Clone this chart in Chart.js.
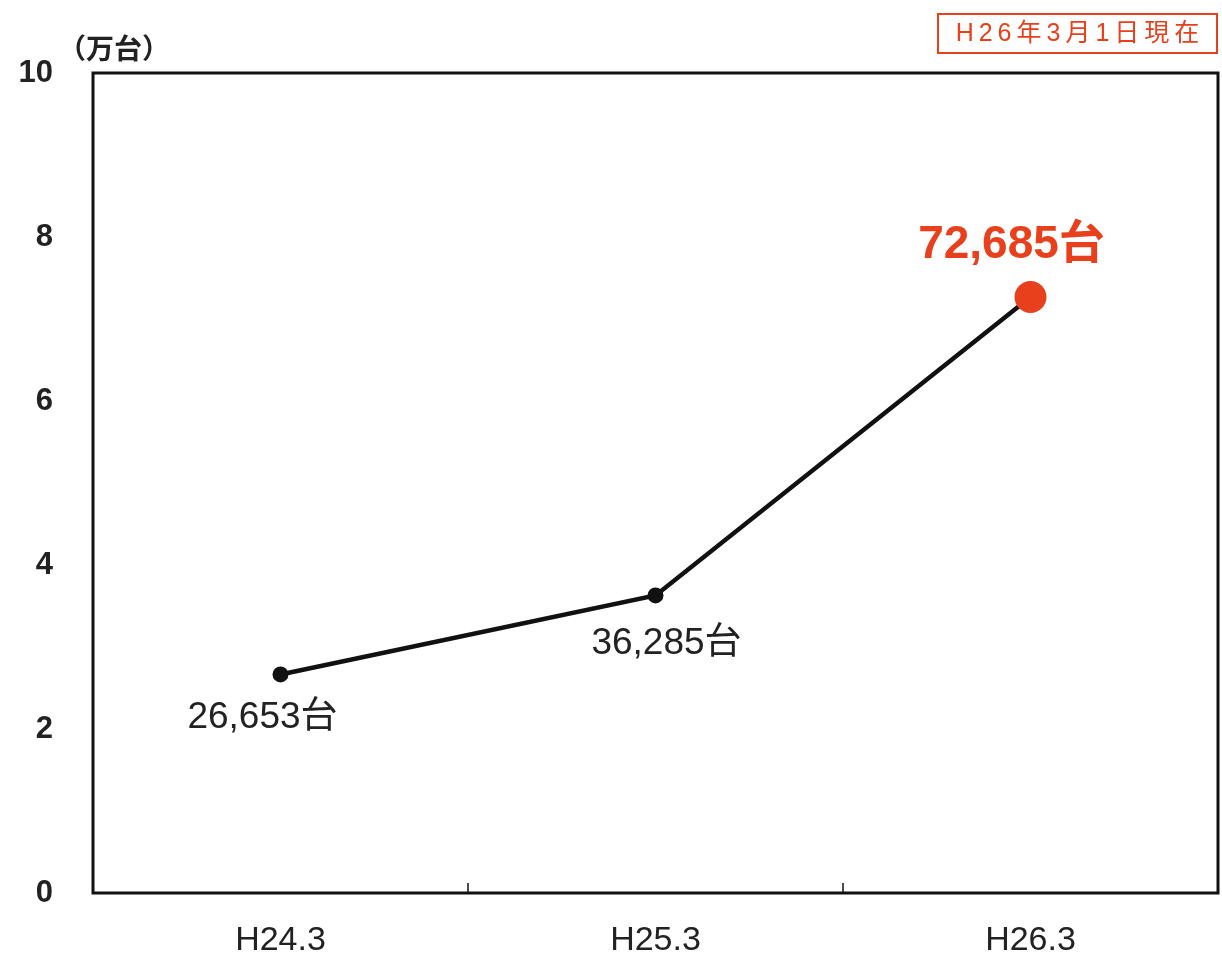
<!DOCTYPE html>
<html>
<head>
<meta charset="utf-8">
<script src="https://cdn.jsdelivr.net/npm/chart.js@4"></script>
<style>
html,body{margin:0;padding:0;background:#fff;}
#wrap{position:relative;width:1222px;height:958px;}
</style>
</head>
<body>
<div id="wrap"><canvas id="c" width="1222" height="958"></canvas></div>
<script>
const categories = ["H24.3", "H25.3", "H26.3"];
const units = [2.6653, 3.6285, 7.2685];
const valueLabels = ["26,653台", "36,285台", "72,685台"];
const yTicks = [0, 2, 4, 6, 8, 10];
const unitLabel = "（万台）";
const dateNote = "H26年3月1日現在";

const RED = "#e8401c";
const FONT = "'Liberation Sans', Arial, 'Noto Sans CJK JP', sans-serif";

const labelStyle = [
  {dx: -18, dy: 43, size: 37, color: "#222", weight: "normal"},
  {dx: 11, dy: 48, size: 37, color: "#222", weight: "normal"},
  {dx: -19, dy: -52, size: 46, color: RED, weight: "bold"}
];

const deco = {
  id: "deco",
  afterDraw(chart) {
    const ctx = chart.ctx;
    const a = chart.chartArea;
    const xs = chart.scales.x;
    ctx.save();
    // frame
    ctx.strokeStyle = "#111";
    ctx.lineWidth = 3;
    ctx.strokeRect(a.left, a.top, a.right - a.left, a.bottom - a.top);
    // inner tick marks between categories
    ctx.lineWidth = 1.5;
    for (let i = 0; i < categories.length - 1; i++) {
      const x = (xs.getPixelForTick(i) + xs.getPixelForTick(i + 1)) / 2;
      ctx.beginPath();
      ctx.moveTo(x, a.bottom);
      ctx.lineTo(x, a.bottom - 10);
      ctx.stroke();
    }
    // value labels
    const meta = chart.getDatasetMeta(0);
    meta.data.forEach((pt, i) => {
      const s = labelStyle[i];
      ctx.font = s.weight + " " + s.size + "px " + FONT;
      ctx.fillStyle = s.color;
      ctx.textAlign = "center";
      ctx.textBaseline = "middle";
      ctx.fillText(valueLabels[i], pt.x + s.dx, pt.y + s.dy);
    });
    // unit label
    ctx.font = "bold 28px 'Noto Sans CJK JP', sans-serif";
    ctx.fillStyle = "#222";
    ctx.textAlign = "left";
    ctx.fillText(unitLabel, 58, 48);
    // date note box
    ctx.strokeStyle = RED;
    ctx.lineWidth = 2;
    ctx.strokeRect(938, 14, 279, 39);
    ctx.font = "25px " + FONT;
    ctx.fillStyle = RED;
    ctx.textAlign = "center";
    ctx.letterSpacing = "5px";
    ctx.fillText(dateNote, 1080, 34);
    ctx.restore();
  }
};

new Chart(document.getElementById("c"), {
  type: "line",
  data: {
    labels: categories,
    datasets: [{
      data: units,
      borderColor: "#111",
      borderWidth: 4.5,
      pointRadius: [8, 8, 16],
      pointBackgroundColor: ["#111", "#111", RED],
      pointBorderColor: ["#111", "#111", RED],
      pointBorderWidth: 0,
      tension: 0
    }]
  },
  options: {
    responsive: false,
    animation: false,
    layout: {autoPadding: false, padding: {top: 73, right: 4, left: 0, bottom: 0}},
    plugins: {legend: {display: false}, tooltip: {enabled: false}},
    scales: {
      x: {
        offset: true,
        grid: {display: false, drawTicks: false},
        border: {display: false},
        ticks: {font: {size: 34, family: FONT}, color: "#222", padding: 27},
        afterFit(s) { s.height = 65; }
      },
      y: {
        min: 0, max: 10,
        afterBuildTicks(s) { s.ticks = yTicks.map(v => ({value: v})); },
        grid: {display: false, drawTicks: false},
        border: {display: false},
        ticks: {font: {size: 31, family: FONT, weight: "bold"}, color: "#222", padding: 40},
        afterFit(s) { s.width = 93; }
      }
    }
  },
  plugins: [deco]
});
</script>
</body>
</html>
